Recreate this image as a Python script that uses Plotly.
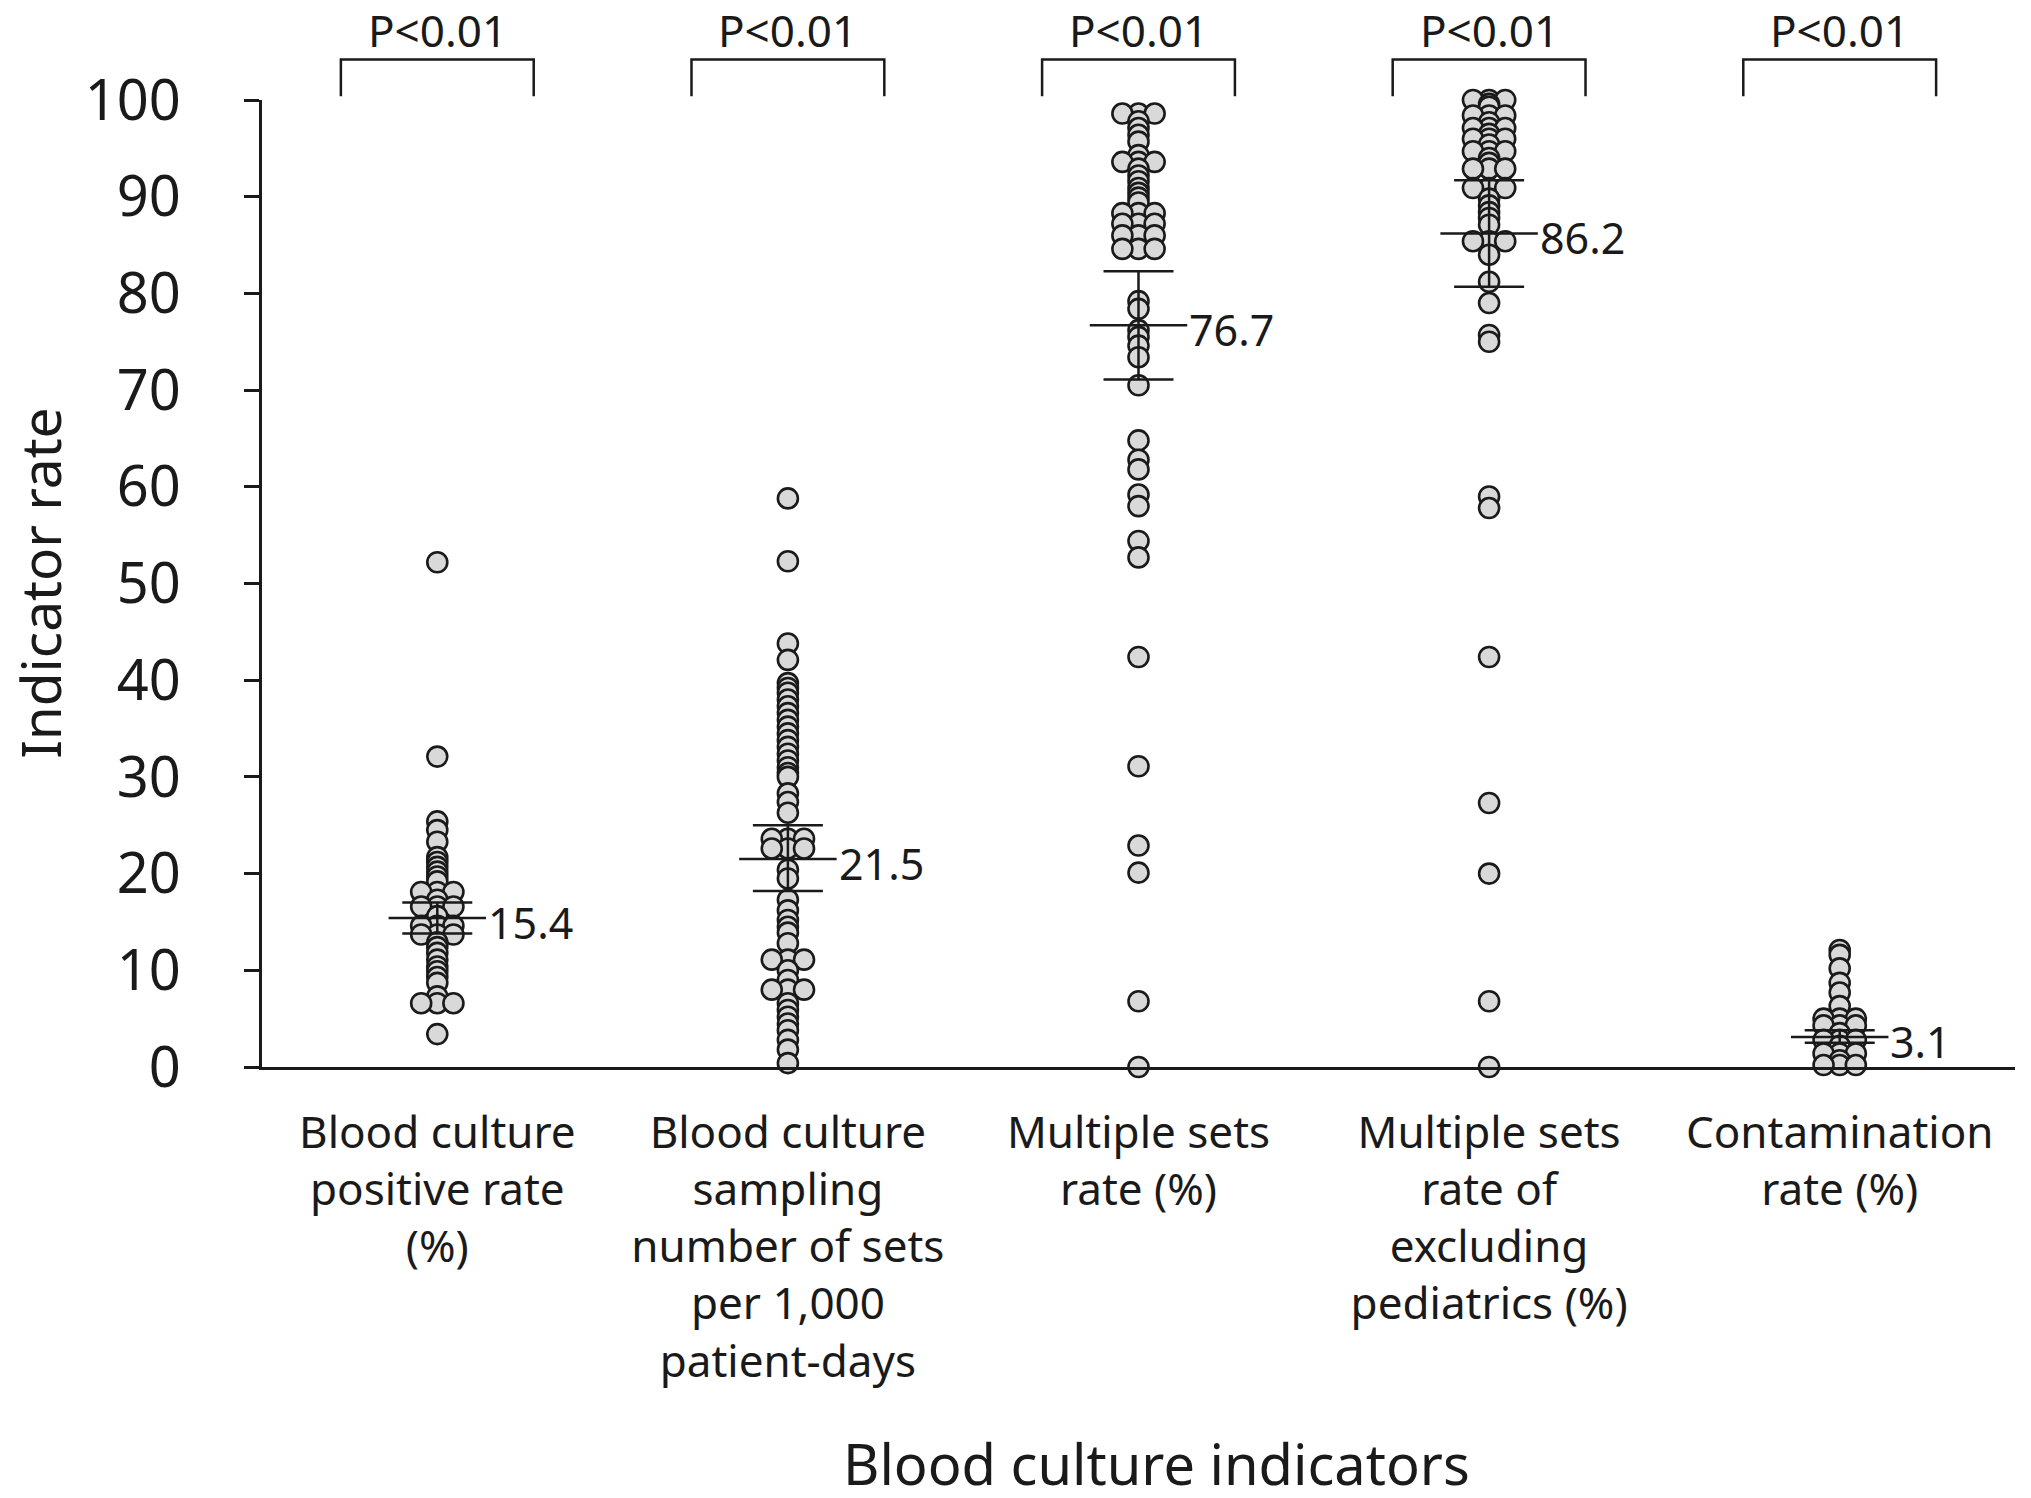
import plotly.graph_objects as go

# ---------------- data ----------------
categories = [
    "Blood culture<br>positive rate<br>(%)",
    "Blood culture<br>sampling<br>number of sets<br>per 1,000<br>patient-days",
    "Multiple sets<br>rate (%)",
    "Multiple sets<br>rate of<br>excluding<br>pediatrics (%)",
    "Contamination<br>rate (%)",
]

positive_rate = [52.2, 32.1, 25.4, 24.5, 23.3, 21.7, 21.2, 20.7, 20.2, 19.7, 19.2,
                 18.1, 18.1, 18.1, 17.3, 16.6, 16.6, 16.6, 15.6,
                 14.6, 14.6, 14.6, 13.7, 13.7, 13.7, 12.9, 12.4, 11.8, 11.1,
                 10.4, 9.9, 9.3, 8.7, 7.3, 6.6, 6.6, 6.6, 3.4]

sampling_sets = [58.8, 52.3, 43.8, 42.1, 39.7, 39.2, 38.7, 38.0, 37.3, 36.6, 35.9,
                 35.2, 34.5, 33.8, 33.1, 32.4, 31.7, 31.0, 30.4, 30.0, 28.3, 27.4,
                 26.3, 23.6, 23.6, 23.6, 22.6, 22.6, 22.6, 20.4, 19.5, 17.3, 16.2,
                 15.2, 14.5, 13.9, 12.8, 11.1, 11.1, 11.1, 10.0, 9.0, 8.0, 8.0, 8.0,
                 6.6, 5.9, 5.2, 4.5, 3.8, 2.8, 1.8, 0.4]

multiple_sets = [98.6, 98.6, 98.6, 97.8, 97.1, 96.4, 95.7, 94.3, 93.6, 93.6, 93.6,
                 92.9, 92.2, 91.6, 90.9, 90.4, 89.9, 89.4, 88.3, 88.3, 88.3,
                 87.2, 87.2, 87.2, 86.0, 86.0, 86.0, 84.6, 84.6, 84.6,
                 79.2, 78.4, 76.2, 75.5, 74.6, 73.4, 70.5, 64.8, 62.8, 61.8, 59.2,
                 58.0, 54.4, 52.7, 42.4, 31.1, 22.9, 20.1, 6.8, 0.0]

multiple_sets_excl_ped = [100.0, 100.0, 100.0, 99.6, 99.3, 98.4, 98.4, 98.4, 97.7,
                          97.1, 97.1, 97.1, 96.5, 96.0, 96.0, 96.0, 95.4, 94.7, 94.7,
                          94.7, 94.0, 93.5, 92.9, 92.9, 92.9, 90.9, 90.9, 90.9, 89.8,
                          89.1, 88.4, 87.8, 87.1, 85.4, 85.4, 85.4, 84.0, 81.2, 79.0,
                          75.7, 75.0, 59.0, 57.8, 42.4, 27.3, 20.0, 6.8, 0.0]

contamination = [12.1, 11.6, 10.2, 8.7, 7.7, 6.3, 5.0, 5.0, 5.0, 4.3, 4.3, 4.3, 3.5,
                 2.8, 2.8, 2.8, 2.2, 1.4, 1.4, 1.4, 0.7, 0.2, 0.2, 0.2]

series = [positive_rate, sampling_sets, multiple_sets, multiple_sets_excl_ped, contamination]

means = [15.4, 21.5, 76.7, 86.2, 3.1]
ci_upper = [17.0, 25.0, 82.3, 91.7, 3.8]
ci_lower = [13.8, 18.2, 71.1, 80.7, 2.5]
p_labels = ["P<0.01"] * 5

y_ticks = [0, 10, 20, 30, 40, 50, 60, 70, 80, 90, 100]

# ---------------- style ----------------
FONT = "Noto Sans"
INK = "#1a1a1a"
SWARM_STEP = 0.046      # horizontal spread of coincident values (x units)
MEAN_HALF = 0.139       # half width of the mean line (x units)
BR_HALF = 0.275         # half width of the significance bracket


def swarm_offsets(values, step):
    pattern = [0, -1, 1, -2, 2, -3, 3]
    counts = {}
    out = []
    for v in values:
        k = counts.get(v, 0)
        counts[v] = k + 1
        out.append(pattern[k] * step)
    return out


fig = go.Figure()

for i, vals in enumerate(series):
    offs = swarm_offsets(vals, SWARM_STEP)
    fig.add_trace(go.Scatter(
        x=[i + o for o in offs], y=vals, mode="markers",
        marker=dict(size=20, color="#d9d9d9", line=dict(color=INK, width=2.6)),
        cliponaxis=False, showlegend=False, hoverinfo="y"))

# error bars (CI)
fig.add_trace(go.Scatter(
    x=list(range(len(means))), y=means, mode="markers",
    marker=dict(size=1, opacity=0),
    error_y=dict(type="data", symmetric=False,
                 array=[u - m for u, m in zip(ci_upper, means)],
                 arrayminus=[m - l for m, l in zip(means, ci_lower)],
                 width=35, thickness=2.5, color=INK),
    cliponaxis=False, showlegend=False, hoverinfo="skip"))

# mean lines
mx, my = [], []
for i, m in enumerate(means):
    mx += [i - MEAN_HALF, i + MEAN_HALF, None]
    my += [m, m, None]
fig.add_trace(go.Scatter(x=mx, y=my, mode="lines", line=dict(color=INK, width=2.5),
                         cliponaxis=False, showlegend=False, hoverinfo="skip"))

annotations = []
for i, m in enumerate(means):
    annotations.append(dict(x=i + MEAN_HALF, y=m, xref="x", yref="y", text=f"{m:.1f}",
                            showarrow=False, xanchor="left", yanchor="middle", xshift=0,
                            yshift=-4, font=dict(family=FONT, size=43, color=INK)))

shapes = []
for i, lab in enumerate(p_labels):
    shapes.append(dict(type="path", xref="x", yref="paper",
                       path=f"M {i-BR_HALF},1.004 L {i-BR_HALF},1.0418 L {i+BR_HALF},1.0418 L {i+BR_HALF},1.004",
                       line=dict(color=INK, width=2.5)))
    annotations.append(dict(x=i, y=1.0418, xref="x", yref="paper", text=lab, showarrow=False,
                            xanchor="center", yanchor="bottom", yshift=-2,
                            font=dict(family=FONT, size=44, color=INK)))

# axis titles
annotations.append(dict(x=-0.127, y=0.5, xref="paper", yref="paper", text="Indicator rate",
                        textangle=-90, showarrow=False, xanchor="center", yanchor="middle",
                        font=dict(family=FONT, size=55, color=INK)))
annotations.append(dict(x=0.51, y=-0.4095, xref="paper", yref="paper",
                        text="Blood culture indicators", showarrow=False,
                        xanchor="center", yanchor="middle",
                        font=dict(family=FONT, size=56, color=INK)))

fig.update_layout(
    width=2015, height=1482,
    margin=dict(l=254, r=8, t=92, b=423),
    paper_bgcolor="white", plot_bgcolor="white",
    font=dict(family=FONT, color=INK),
    shapes=shapes, annotations=annotations, showlegend=False,
)
fig.update_xaxes(range=[-0.5, 4.5], tickvals=list(range(len(categories))), ticktext=categories,
                 showgrid=False, zeroline=False, showline=True, linecolor=INK, linewidth=3,
                 ticks="", tickfont=dict(family=FONT, size=44, color=INK), ticklabelstandoff=25)
fig.update_yaxes(range=[0, 100], tickvals=y_ticks, showgrid=False, zeroline=False,
                 showline=True, linecolor=INK, linewidth=3, ticks="outside", ticklen=15,
                 tickwidth=3, tickcolor=INK, tickfont=dict(family=FONT, size=56, color=INK),
                 ticklabelstandoff=52)

fig.write_html("out.html")
